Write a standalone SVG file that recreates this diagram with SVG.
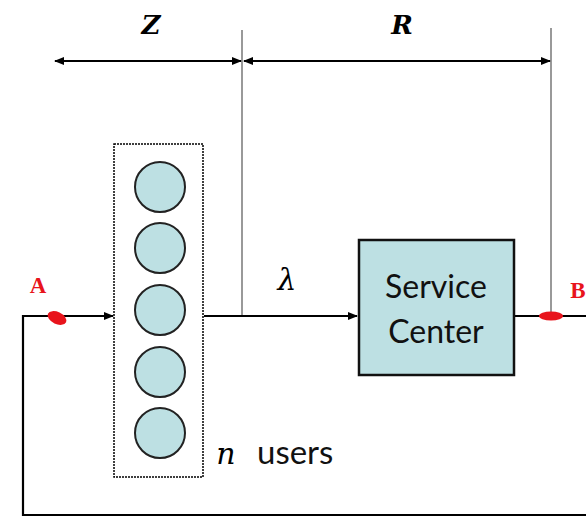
<svg xmlns="http://www.w3.org/2000/svg" width="586" height="517" viewBox="0 0 586 517">
<style>
.ln{stroke:#000;stroke-width:2.2;fill:none}
.gv{stroke:#777;stroke-width:1.5;fill:none}
.user{fill:#bde0e3;stroke:#222;stroke-width:2}
.mth{font-family:"DejaVu Serif","Liberation Serif",serif;font-style:italic;fill:#000}
.lbl{font-family:Lato,"Open Sans",sans-serif;fill:#111}
.red{font-family:"Liberation Serif",serif;font-weight:bold;fill:#e8141c;font-size:23px}
</style>
<defs>
<marker id="ah" markerWidth="10" markerHeight="10" refX="9" refY="5" orient="auto-start-reverse" markerUnits="userSpaceOnUse">
<path d="M0,1 L10,5 L0,9 Z" fill="#000"/>
</marker>
</defs>
<g id="connectors">
<line class="gv" x1="242" y1="30" x2="242" y2="315"/>
<line class="gv" x1="551" y1="28" x2="551" y2="316"/>
<line class="ln" x1="55" y1="61" x2="241" y2="61" marker-start="url(#ah)" marker-end="url(#ah)"/>
<line class="ln" x1="244" y1="61" x2="550" y2="61" marker-start="url(#ah)" marker-end="url(#ah)"/>
<polyline class="ln" points="586,316 514,316"/>
<polyline class="ln" points="586,515 23,515 23,316 113,316" marker-end="url(#ah)"/>
<line class="ln" x1="204" y1="316" x2="357" y2="316" marker-end="url(#ah)"/>
</g>
<g id="users">
<rect x="114" y="144" width="89" height="333" fill="#fff" stroke="#000" stroke-width="1.5" stroke-dasharray="2,1"/>
<circle class="user" cx="160" cy="187" r="25"/>
<circle class="user" cx="160" cy="248" r="25"/>
<circle class="user" cx="160" cy="310" r="25"/>
<circle class="user" cx="160" cy="372" r="25"/>
<circle class="user" cx="160" cy="433" r="25"/>
</g>
<g id="service-center">
<rect x="359" y="240" width="155" height="135" fill="#bde0e3" stroke="#111" stroke-width="2.5"/>
<text class="lbl" x="436" y="298" font-size="32" text-anchor="middle">Service</text>
<text class="lbl" x="436" y="343" font-size="32" text-anchor="middle">Center</text>
</g>
<g id="labels">
<text class="mth" x="151" y="34" font-size="26" text-anchor="middle" font-weight="bold">Z</text>
<text class="mth" x="402" y="34" font-size="26" text-anchor="middle" font-weight="bold">R</text>
<text class="mth" x="287" y="290" font-size="30" text-anchor="middle">λ</text>
<text class="mth" x="226" y="464" font-size="30" text-anchor="middle">n</text>
<text class="lbl" x="257" y="464" font-size="33">users</text>
<text class="red" x="38" y="293" text-anchor="middle">A</text>
<text class="red" x="578" y="298" text-anchor="middle">B</text>
<ellipse cx="57" cy="318" rx="10" ry="6" transform="rotate(25 57 318)" fill="#e8141c"/>
<ellipse cx="551" cy="316" rx="12" ry="4.5" fill="#e8141c"/>
</g>
</svg>
